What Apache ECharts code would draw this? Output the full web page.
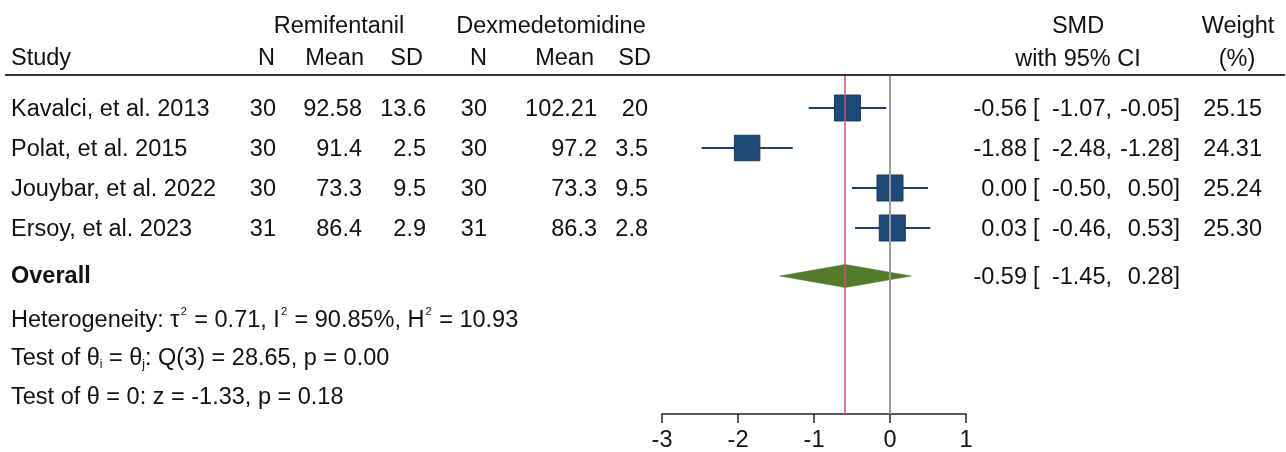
<!DOCTYPE html>
<html>
<head>
<meta charset="utf-8">
<script src="https://cdn.jsdelivr.net/npm/echarts@6/dist/echarts.min.js"></script>
<style>
html,body{margin:0;padding:0;background:#fff;}
#chart{width:1286px;height:452px;}
</style>
</head>
<body>
<div id="chart"></div>
<script>
// ---------- data ----------
const studies = ["Kavalci, et al. 2013", "Polat, et al. 2015", "Jouybar, et al. 2022", "Ersoy, et al. 2023"];
const remN = [30, 30, 30, 31];
const remMean = [92.58, 91.4, 73.3, 86.4];
const remSD = [13.6, 2.5, 9.5, 2.9];
const dexN = [30, 30, 30, 31];
const dexMean = [102.21, 97.2, 73.3, 86.3];
const dexSD = [20, 3.5, 9.5, 2.8];
const smd = [-0.56, -1.88, 0.00, 0.03];
const ciLow = [-1.07, -2.48, -0.50, -0.46];
const ciHigh = [-0.05, -1.28, 0.50, 0.53];
const weights = [25.15, 24.31, 25.24, 25.30];
const overall = [-0.59, -1.45, 0.28]; // est, low, high
const xTicks = [-3, -2, -1, 0, 1];
const hetTau2 = "0.71", hetI2 = "90.85%", hetH2 = "10.93";
const qDf = 3, qStat = "28.65", qP = "0.00";
const zStat = "-1.33", zP = "0.18";

// ---------- layout ----------
const FONT = '"Liberation Sans", Arial, sans-serif';
const FS = 23.5;
const TXT = '#111';
const GRID_L = 662, GRID_R = 966, GRID_T = 76, GRID_B = 414;
const ROW_Y0 = 108, ROW_STEP = 40;
const OVERALL_ROW = 4.2;
const TY = 1.5; // text baseline nudge
const rowY = i => ROW_Y0 + ROW_STEP * i;

const chart = echarts.init(document.getElementById('chart'), null, {renderer: 'canvas'});

function t(text, x, y, align, weight) {
  return {
    type: 'text', silent: true,
    style: {text: text, x: x, y: y + TY, textAlign: align || 'left', textVerticalAlign: 'middle',
            font: (weight ? weight + ' ' : '') + FS + 'px ' + FONT, fill: TXT}
  };
}

const f2 = v => v.toFixed(2);
const graphics = [];
// header
graphics.push(t('Remifentanil', 339, 25, 'center'));
graphics.push(t('Dexmedetomidine', 551, 25, 'center'));
graphics.push(t('SMD', 1078, 25, 'center'));
graphics.push(t('Weight', 1238, 25, 'center'));
graphics.push(t('Study', 11, 57, 'left'));
graphics.push(t('N', 275, 57, 'right'));
graphics.push(t('Mean', 364, 57, 'right'));
graphics.push(t('SD', 423, 57, 'right'));
graphics.push(t('N', 487, 57, 'right'));
graphics.push(t('Mean', 594, 57, 'right'));
graphics.push(t('SD', 651, 57, 'right'));
graphics.push(t('with 95% CI', 1078, 58, 'center'));
graphics.push(t('(%)', 1237, 58, 'center'));
graphics.push({type: 'line', silent: true, shape: {x1: 5, y1: 75, x2: 1285, y2: 75},
  style: {stroke: '#333', lineWidth: 2}});

// study rows
studies.forEach((s, i) => {
  const y = rowY(i);
  graphics.push(t(s, 11, y, 'left'));
  graphics.push(t(String(remN[i]), 276, y, 'right'));
  graphics.push(t(String(remMean[i]), 362, y, 'right'));
  graphics.push(t(String(remSD[i]), 426, y, 'right'));
  graphics.push(t(String(dexN[i]), 487, y, 'right'));
  graphics.push(t(String(dexMean[i]), 597, y, 'right'));
  graphics.push(t(String(dexSD[i]), 648, y, 'right'));
  graphics.push(t(f2(smd[i]), 1027, y, 'right'));
  graphics.push(t('[', 1033, y, 'left'));
  graphics.push(t(f2(ciLow[i]) + ',', 1112, y, 'right'));
  graphics.push(t(f2(ciHigh[i]) + ']', 1180, y, 'right'));
  graphics.push(t(f2(weights[i]), 1262, y, 'right'));
});
// overall row
const oy = rowY(OVERALL_ROW);
graphics.push(t('Overall', 11, oy - 1, 'left', 'bold'));
graphics.push(t(f2(overall[0]), 1027, oy, 'right'));
graphics.push(t('[', 1033, oy, 'left'));
graphics.push(t(f2(overall[1]) + ',', 1112, oy, 'right'));
graphics.push(t(f2(overall[2]) + ']', 1180, oy, 'right'));

// footer stats with sup/subscripts
const rich = {
  n: {fontSize: FS, fontFamily: FONT, color: TXT, lineHeight: 26, verticalAlign: 'bottom'},
  sup: {fontSize: 11, fontFamily: FONT, color: TXT, lineHeight: 26, verticalAlign: 'top', padding: [0, 1, 0, 1]},
  sub: {fontSize: 12, fontFamily: FONT, color: TXT, lineHeight: 26, verticalAlign: 'bottom'}
};
function richText(str, y) {
  return {type: 'text', silent: true,
    style: {text: str, x: 11, y: y + TY, textAlign: 'left', textVerticalAlign: 'middle', rich: rich,
            font: FS + 'px ' + FONT, fill: TXT}};
}
graphics.push(richText('{n|Heterogeneity: τ}{sup|2}{n| = ' + hetTau2 + ', I}{sup|2}{n| = ' + hetI2 + ', H}{sup|2}{n| = ' + hetH2 + '}', 318));
graphics.push(richText('{n|Test of θ}{sub|i}{n| = θ}{sub|j}{n|: Q(' + qDf + ') = ' + qStat + ', p = ' + qP + '}', 356));
graphics.push(richText('{n|Test of θ = 0: z = ' + zStat + ', p = ' + zP + '}', 395));

// marks data
const studyData = smd.map((v, i) => [v, ciLow[i], ciHigh[i], i, weights[i]]);
const overallData = [[overall[0], overall[1], overall[2], OVERALL_ROW]];
const maxW = Math.max.apply(null, weights);

const option = {
  animation: false,
  backgroundColor: '#fff',
  grid: {left: GRID_L, right: 1286 - GRID_R, top: GRID_T, bottom: 452 - GRID_B,
         containLabel: false, outerBoundsMode: 'none'},
  xAxis: {
    type: 'value', min: xTicks[0], max: xTicks[xTicks.length - 1], interval: 1,
    axisLine: {show: true, onZero: false, lineStyle: {color: '#222', width: 1.5}},
    axisTick: {show: true, length: 9, lineStyle: {color: '#222', width: 1.5}},
    axisLabel: {fontSize: FS, fontFamily: FONT, color: TXT, margin: 15},
    splitLine: {show: false}
  },
  yAxis: {
    type: 'value', inverse: true, show: false,
    min: (GRID_T - ROW_Y0) / ROW_STEP, max: (GRID_B - ROW_Y0) / ROW_STEP
  },
  graphic: {elements: graphics},
  series: [
    {
      type: 'line', data: [], z: 1, silent: true,
      markLine: {
        silent: true, symbol: ['none', 'none'], label: {show: false},
        data: [
          {xAxis: 0, lineStyle: {color: '#9a9a9a', width: 2, type: 'solid'}},
          {xAxis: overall[0], lineStyle: {color: '#cf5069', width: 1.5, type: 'solid'}}
        ]
      }
    },
    {
      type: 'custom', z: 3, silent: true,
      data: studyData,
      renderItem: function (params, api) {
        const est = api.value(0), lo = api.value(1), hi = api.value(2), row = api.value(3), w = api.value(4);
        const pL = api.coord([lo, row]), pH = api.coord([hi, row]), pE = api.coord([est, row]);
        const size = 26 * Math.sqrt(w / maxW);
        return {type: 'group', children: [
          {type: 'line', shape: {x1: pL[0], y1: pL[1], x2: pH[0], y2: pH[1]},
           style: {stroke: '#1e3d68', lineWidth: 2}},
          {type: 'rect', shape: {x: pE[0] - size / 2, y: pE[1] - size / 2, width: size, height: size},
           style: {fill: '#1f4a78', stroke: '#15365e', lineWidth: 1}}
        ]};
      }
    },
    {
      type: 'custom', z: 3, silent: true,
      data: overallData,
      renderItem: function (params, api) {
        const row = api.value(3);
        const pE = api.coord([api.value(0), row]), pL = api.coord([api.value(1), row]), pH = api.coord([api.value(2), row]);
        const h = 11.5;
        return {type: 'polygon', shape: {points: [[pL[0], pL[1]], [pE[0], pE[1] - h], [pH[0], pH[1]], [pE[0], pE[1] + h]]},
          style: {fill: '#557a2c', stroke: '#4b6e26', lineWidth: 0.5}};
      }
    }
  ]
};
chart.setOption(option);
</script>
</body>
</html>
